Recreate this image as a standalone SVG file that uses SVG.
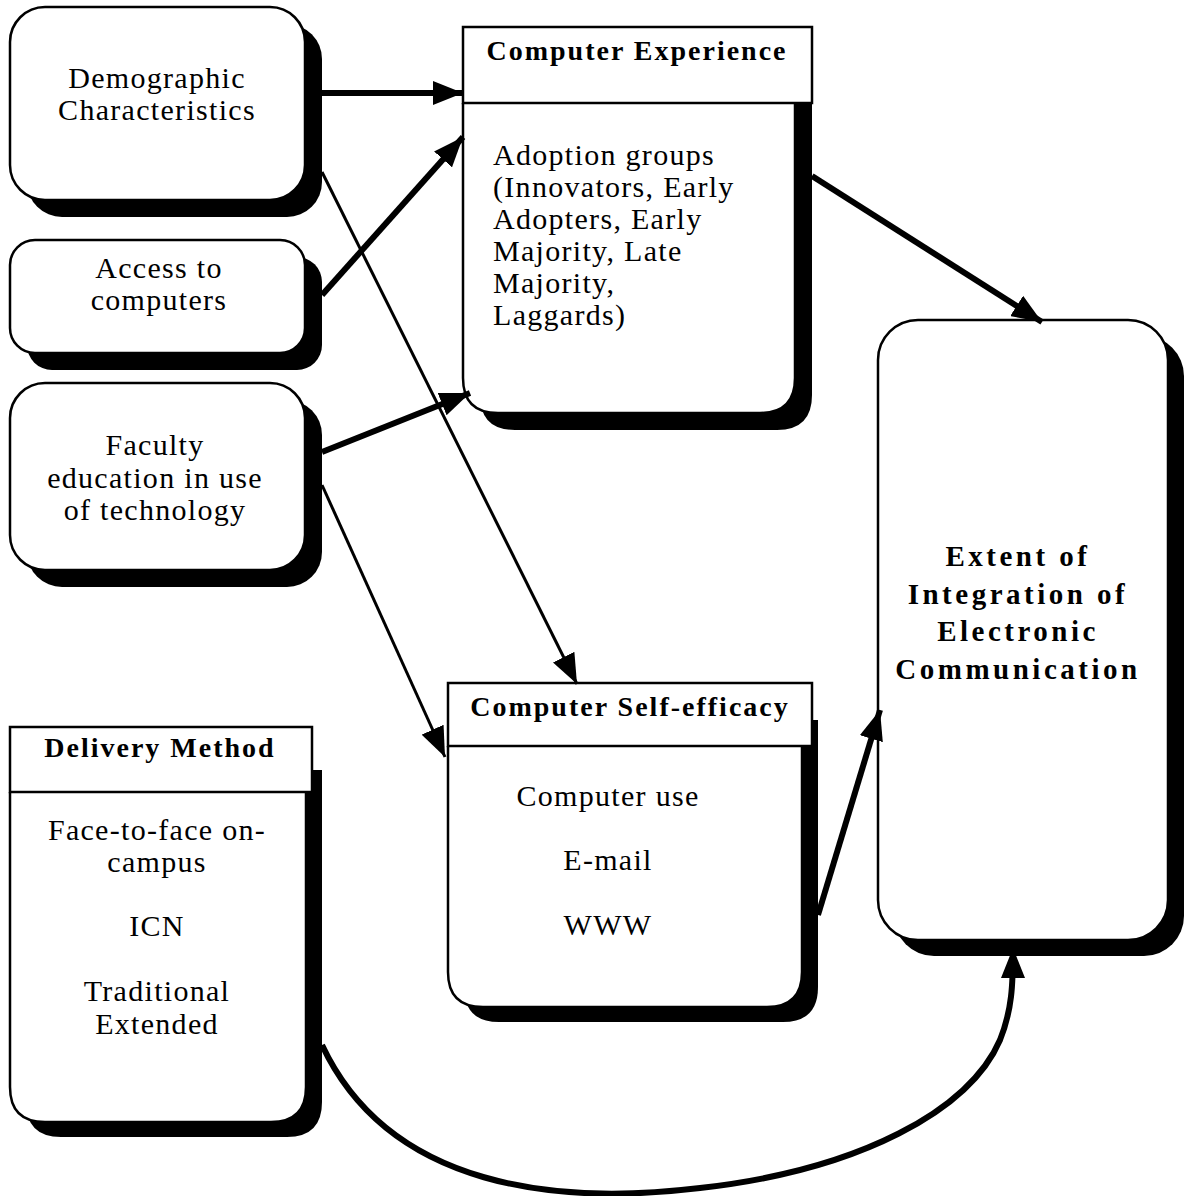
<svg xmlns="http://www.w3.org/2000/svg" width="1184" height="1196" viewBox="0 0 1184 1196">
<style>
.box{fill:#fff;stroke:#000;stroke-width:2.5}
.sh{fill:#000}
.t{font-family:"Liberation Serif",serif;font-size:30px;letter-spacing:1.3px;fill:#000}
.c{text-anchor:middle}
.b{font-weight:bold;font-size:28px;letter-spacing:2px}
.e{font-weight:bold;font-size:29px;letter-spacing:3.5px}
.thick{stroke:#000;stroke-width:6;fill:none}
.thin{stroke:#000;stroke-width:3;fill:none}
</style>
<defs>
<marker id="ah" markerUnits="userSpaceOnUse" markerWidth="32" markerHeight="24" refX="30" refY="12" orient="auto">
<path d="M0,0 L30,12 L0,24 Z" fill="#000"/>
</marker>
</defs>
<g id="demographic">
<rect class="sh" x="27" y="24" width="295" height="193" rx="35"/>
<rect class="box" x="10" y="7" width="295" height="193" rx="35"/>
<text class="t c" x="157" y="88">Demographic</text>
<text class="t c" x="157" y="120">Characteristics</text>
</g>
<g id="access">
<rect class="sh" x="27" y="257" width="295" height="113" rx="25"/>
<rect class="box" x="10" y="240" width="295" height="113" rx="25"/>
<text class="t c" x="159" y="278">Access to</text>
<text class="t c" x="159" y="310">computers</text>
</g>
<g id="faculty">
<rect class="sh" x="27" y="400" width="295" height="187" rx="35"/>
<rect class="box" x="10" y="383" width="295" height="187" rx="35"/>
<text class="t c" x="155" y="455">Faculty</text>
<text class="t c" x="155" y="488">education in use</text>
<text class="t c" x="155" y="520">of technology</text>
</g>
<g id="computer-experience">
<path class="sh" d="M480 103 V395 Q480 430 515 430 H777 Q812 430 812 395 V103 Z"/>
<path class="box" d="M463 103 V378 Q463 413 498 413 H760 Q795 413 795 378 V103"/>
<rect class="box" x="463" y="27" width="349" height="76"/>
<text class="t b c" x="637" y="60">Computer Experience</text>
<text class="t" x="493" y="165">Adoption groups</text>
<text class="t" x="493" y="197">(Innovators, Early</text>
<text class="t" x="493" y="229">Adopters, Early</text>
<text class="t" x="493" y="261">Majority, Late</text>
<text class="t" x="493" y="293">Majority,</text>
<text class="t" x="493" y="325">Laggards)</text>
</g>
<g id="computer-self-efficacy">
<path class="sh" d="M464 720 H818 V987 Q818 1022 783 1022 H499 Q464 1022 464 987 Z"/>
<path class="box" d="M448 746 V972 Q448 1007 483 1007 H767 Q802 1007 802 972 V746"/>
<rect class="box" x="448" y="683" width="364" height="63"/>
<text class="t b c" x="630" y="716">Computer Self-efficacy</text>
<text class="t c" x="608" y="806">Computer use</text>
<text class="t c" x="608" y="870">E-mail</text>
<text class="t c" x="608" y="935">WWW</text>
</g>
<g id="delivery-method">
<path class="sh" d="M26 770 H322 V1102 Q322 1137 287 1137 H61 Q26 1137 26 1102 Z"/>
<path class="box" d="M10 792 V1087 Q10 1122 45 1122 H271 Q306 1122 306 1087 V792"/>
<rect class="box" x="10" y="727" width="302" height="65"/>
<text class="t b c" x="160" y="757">Delivery Method</text>
<text class="t c" x="157" y="840">Face-to-face on-</text>
<text class="t c" x="157" y="872">campus</text>
<text class="t c" x="157" y="936">ICN</text>
<text class="t c" x="157" y="1001">Traditional</text>
<text class="t c" x="157" y="1034">Extended</text>
</g>
<g id="extent">
<rect class="sh" x="894" y="336" width="290" height="620" rx="40"/>
<rect class="box" x="878" y="320" width="290" height="620" rx="40"/>
<text class="t e c" x="1018" y="566">Extent of</text>
<text class="t e c" x="1018" y="604">Integration of</text>
<text class="t e c" x="1018" y="641">Electronic</text>
<text class="t e c" x="1018" y="679">Communication</text>
</g>
<g id="connectors">
<line class="thick" x1="322" y1="93" x2="463" y2="93" marker-end="url(#ah)"/>
<line class="thick" x1="322" y1="295" x2="463" y2="137" marker-end="url(#ah)"/>
<line class="thin" x1="322" y1="172" x2="577" y2="684" marker-end="url(#ah)"/>
<line class="thick" x1="322" y1="452" x2="470" y2="393" marker-end="url(#ah)"/>
<line class="thin" x1="322" y1="485" x2="445" y2="757" marker-end="url(#ah)"/>
<line class="thick" x1="812" y1="176" x2="1042" y2="322" marker-end="url(#ah)"/>
<line class="thick" x1="818" y1="915" x2="880" y2="710" marker-end="url(#ah)"/>
<path class="thick" d="M322 1045 C390 1190 560 1205 700 1188 C860 1170 970 1110 1000 1040 C1012 1010 1013 985 1013 948" marker-end="url(#ah)"/>
</g>
</svg>
